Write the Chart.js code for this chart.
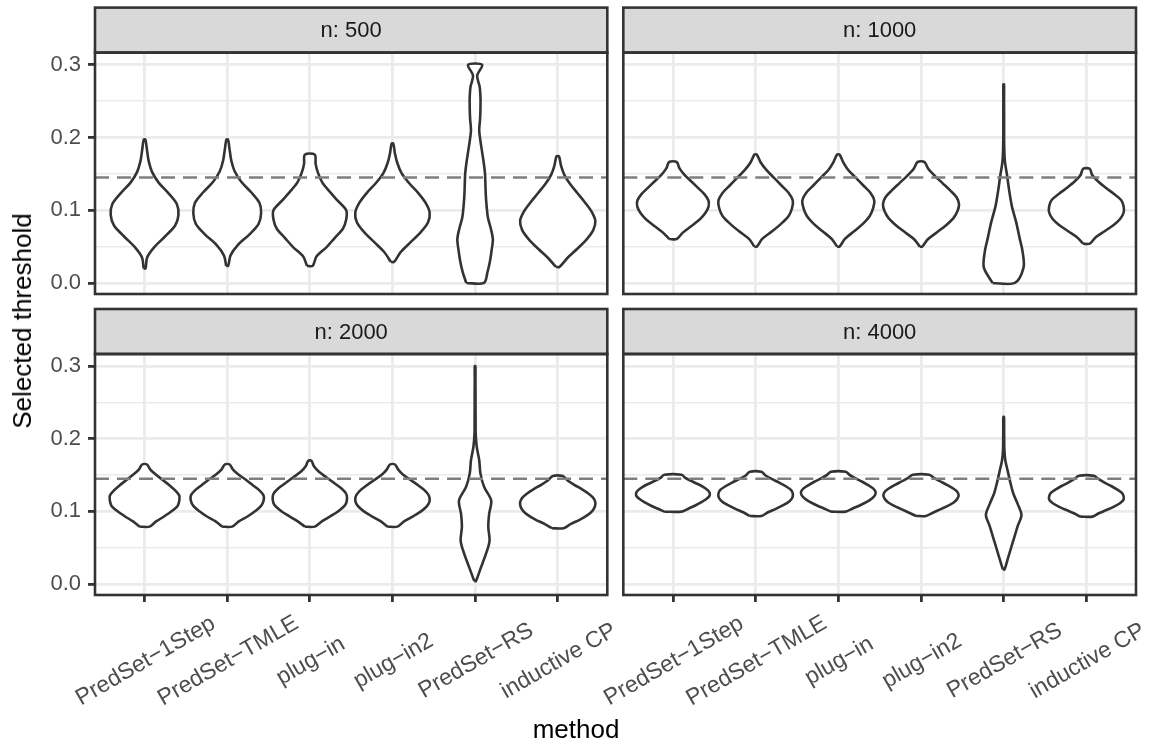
<!DOCTYPE html>
<html>
<head>
<meta charset="utf-8">
<script src="https://cdn.jsdelivr.net/npm/chart.js@4.4.1/dist/chart.umd.min.js"></script>
<style>
  body { margin: 0; background: #fff; }
  #wrap { position: relative; width: 1151px; height: 748px; overflow: hidden; font-family: "Liberation Sans", Arial, sans-serif; }
  #wrap canvas { position: absolute; }
  .axis-title { position: absolute; font-size: 26px; line-height: 1; color: #000; white-space: nowrap; transform: translate(-50%, -50%); }
  #ytitle { left: 22px; top: 321px; transform: translate(-50%, -50%) rotate(-90deg); }
  #xtitle { left: 576px; top: 729px; }
</style>
</head>
<body>
<div id="wrap">
  <canvas id="p500" width="615" height="324" style="left:0;top:0"></canvas>
  <canvas id="p1000" width="536" height="324" style="left:615px;top:0"></canvas>
  <canvas id="p2000" width="615" height="448" style="left:0;top:300px"></canvas>
  <canvas id="p4000" width="591" height="448" style="left:560px;top:300px"></canvas>
  <div class="axis-title" id="ytitle">Selected threshold</div>
  <div class="axis-title" id="xtitle">method</div>
</div>
<script>
const methods = ["PredSet−1Step", "PredSet−TMLE", "plug−in", "plug−in2", "PredSet−RS", "inductive CP"];
const panelNames = ["n: 500", "n: 1000", "n: 2000", "n: 4000"];
const yTicks = [0, 0.05, 0.1, 0.15, 0.2, 0.25, 0.3];
const refThreshold = 0.145;

// each violin: lowest / highest value, then half widths at evenly spaced levels between them
const lo500 = [0.020, 0.0235, 0.0235, 0.029, 0.0, 0.022];
const hi500 = [0.197, 0.197, 0.1765, 0.1917, 0.30, 0.174];
const width500 = [
  [0.012, 0.03, 0.12, 0.25, 0.37, 0.41, 0.39, 0.29, 0.17, 0.09, 0.05, 0.03, 0.01],
  [0.012, 0.04, 0.13, 0.27, 0.38, 0.41, 0.39, 0.29, 0.17, 0.09, 0.05, 0.03, 0.01],
  [0.035, 0.08, 0.20, 0.30, 0.40, 0.44, 0.44, 0.34, 0.24, 0.15, 0.10, 0.07, 0.06],
  [0.02, 0.10, 0.22, 0.34, 0.43, 0.45, 0.40, 0.31, 0.20, 0.11, 0.06, 0.03, 0.01],
  [0.107, 0.15, 0.18, 0.20, 0.215, 0.19, 0.155, 0.14, 0.13, 0.125, 0.12, 0.105, 0.085, 0.065, 0.05, 0.06, 0.065, 0.065, 0.055, 0.025, 0.085],
  [0.02, 0.12, 0.24, 0.35, 0.43, 0.455, 0.41, 0.33, 0.24, 0.15, 0.08, 0.04, 0.015]
];

const lo1000 = [0.0604, 0.05, 0.05, 0.05, 0.0, 0.054];
const hi1000 = [0.1664, 0.1765, 0.1765, 0.1664, 0.273, 0.157];
const width1000 = [
  [0.045, 0.12, 0.22, 0.32, 0.39, 0.43, 0.43, 0.38, 0.30, 0.22, 0.14, 0.08, 0.045],
  [0.015, 0.08, 0.20, 0.31, 0.40, 0.44, 0.45, 0.40, 0.31, 0.22, 0.13, 0.06, 0.015],
  [0.015, 0.08, 0.19, 0.30, 0.38, 0.42, 0.435, 0.39, 0.30, 0.21, 0.12, 0.06, 0.015],
  [0.015, 0.08, 0.19, 0.30, 0.39, 0.44, 0.46, 0.43, 0.35, 0.26, 0.17, 0.09, 0.04],
  [0.135, 0.24, 0.23, 0.19, 0.15, 0.10, 0.068, 0.042, 0.014, 0.006, 0.005, 0.005, 0.004, 0.004],
  [0.04, 0.11, 0.22, 0.33, 0.41, 0.45, 0.45, 0.42, 0.33, 0.23, 0.14, 0.07, 0.04]
];

const lo2000 = [0.079, 0.079, 0.079, 0.079, 0.004, 0.0768];
const hi2000 = [0.1646, 0.1646, 0.1696, 0.1646, 0.30, 0.1486];
const width2000 = [
  [0.06, 0.14, 0.24, 0.33, 0.40, 0.42, 0.42, 0.37, 0.30, 0.22, 0.14, 0.07, 0.03],
  [0.06, 0.14, 0.25, 0.34, 0.41, 0.44, 0.44, 0.39, 0.31, 0.23, 0.14, 0.07, 0.03],
  [0.06, 0.15, 0.26, 0.36, 0.43, 0.45, 0.44, 0.38, 0.29, 0.20, 0.11, 0.05, 0.02],
  [0.06, 0.14, 0.25, 0.35, 0.42, 0.45, 0.44, 0.39, 0.31, 0.22, 0.13, 0.07, 0.03],
  [0.01, 0.07, 0.13, 0.175, 0.16, 0.17, 0.195, 0.11, 0.065, 0.05, 0.02, 0.007, 0.006, 0.005, 0.005, 0.004, 0.004],
  [0.07, 0.16, 0.27, 0.36, 0.42, 0.45, 0.455, 0.43, 0.37, 0.29, 0.20, 0.12, 0.06]
];

const lo4000 = [0.0997, 0.0937, 0.0997, 0.0937, 0.02, 0.0928];
const hi4000 = [0.1504, 0.1545, 0.1545, 0.1504, 0.23, 0.149];
const width4000 = [
  [0.105, 0.19, 0.27, 0.34, 0.40, 0.44, 0.445, 0.42, 0.37, 0.30, 0.22, 0.15, 0.105],
  [0.07, 0.15, 0.25, 0.34, 0.41, 0.445, 0.45, 0.43, 0.37, 0.29, 0.20, 0.12, 0.07],
  [0.09, 0.18, 0.27, 0.35, 0.41, 0.445, 0.45, 0.42, 0.36, 0.29, 0.21, 0.14, 0.09],
  [0.06, 0.15, 0.24, 0.33, 0.40, 0.44, 0.455, 0.44, 0.39, 0.32, 0.24, 0.16, 0.10],
  [0.01, 0.05, 0.09, 0.13, 0.17, 0.215, 0.17, 0.115, 0.08, 0.05, 0.02, 0.008, 0.006, 0.005, 0.004],
  [0.075, 0.15, 0.25, 0.34, 0.41, 0.45, 0.45, 0.43, 0.37, 0.30, 0.22, 0.15, 0.09]
];

const panels = [
  { id: "p500", name: panelNames[0], lo: lo500, hi: hi500, widths: width500, left: true, bottom: false, yWidth: 95, padTop: 52.6, padRight: 7.7 },
  { id: "p1000", name: panelNames[1], lo: lo1000, hi: hi1000, widths: width1000, left: false, bottom: false, yWidth: 8.3, padTop: 52.6, padRight: 15 },
  { id: "p2000", name: panelNames[2], lo: lo2000, hi: hi2000, widths: width2000, left: true, bottom: true, yWidth: 95, padTop: 54, padRight: 7.7 },
  { id: "p4000", name: panelNames[3], lo: lo4000, hi: hi4000, widths: width4000, left: false, bottom: true, yWidth: 63.3, padTop: 54, padRight: 15 }
];

function isMajor(v) {
  return Math.abs(v * 10 - Math.round(v * 10)) < 1e-6;
}

// closed outline: right side going up, left side coming back down
function violinPoints(pos, lo, hi, w) {
  var n = w.length;
  var step = (hi - lo) / (n - 1);
  var right = [], left = [];
  for (var k = 0; k < n; k++) {
    var y = lo + k * step;
    right.push({ x: pos + w[k], y: y });
    left.unshift({ x: pos - w[k], y: y });
  }
  return [{ x: pos - w[0], y: lo }].concat(right, left);
}

// strip, panel border and rotated method labels
const facetPlugin = {
  id: "facet",
  afterDraw: function (chart, args, opts) {
    var ctx = chart.ctx;
    var a = chart.chartArea;
    var stripH = 45;
    ctx.save();
    ctx.fillStyle = "#d9d9d9";
    ctx.fillRect(a.left, a.top - stripH, a.right - a.left, stripH);
    ctx.strokeStyle = "#333333";
    ctx.lineWidth = 2.6;
    ctx.strokeRect(a.left, a.top - stripH, a.right - a.left, stripH);
    ctx.strokeRect(a.left, a.top, a.right - a.left, a.bottom - a.top);
    ctx.font = "22px 'Liberation Sans', Arial, sans-serif";
    ctx.fillStyle = "#1a1a1a";
    ctx.textAlign = "center";
    ctx.textBaseline = "middle";
    ctx.fillText(opts.title, (a.left + a.right) / 2, a.top - stripH / 2 + 1);
    if (opts.labels) {
      var xs = chart.scales.x;
      ctx.font = "23px 'Liberation Sans', Arial, sans-serif";
      ctx.fillStyle = "#4d4d4d";
      xs.ticks.forEach(function (t) {
        ctx.save();
        ctx.translate(xs.getPixelForValue(t.value) + 1, opts.labelY);
        ctx.rotate(-Math.PI / 6);
        ctx.fillText(methods[t.value - 1], 0, 0);
        ctx.restore();
      });
    }
    ctx.restore();
  }
};

panels.forEach(function (p) {
  var datasets = [{
    label: "reference",
    data: [{ x: 0.4, y: refThreshold }, { x: 6.6, y: refThreshold }],
    borderColor: "#7f7f7f",
    borderWidth: 2.6,
    borderDash: [14, 8],
    fill: false,
    pointRadius: 0,
    tension: 0,
    order: 0
  }];
  methods.forEach(function (m, i) {
    datasets.push({
      label: m,
      data: violinPoints(i + 1, p.lo[i], p.hi[i], p.widths[i]),
      borderColor: "#333333",
      backgroundColor: "#ffffff",
      borderWidth: 2.6,
      borderJoinStyle: "round",
      fill: "shape",
      pointRadius: 0,
      tension: 0.3,
      order: 1
    });
  });

  new Chart(document.getElementById(p.id), {
    type: "line",
    data: { datasets: datasets },
    plugins: [facetPlugin],
    options: {
      responsive: false,
      animation: false,
      indexAxis: "y",
      layout: { padding: { top: p.padTop, right: p.padRight, left: 0, bottom: 0 } },
      plugins: {
        legend: { display: false },
        tooltip: { enabled: false },
        facet: { title: p.name, labels: p.bottom, labelY: 361 }
      },
      scales: {
        x: {
          type: "linear",
          min: 0.4,
          max: 6.6,
          afterBuildTicks: function (s) {
            s.ticks = methods.map(function (m, i) { return { value: i + 1 }; });
          },
          afterFit: function (s) { s.height = p.bottom ? 153 : 30; },
          ticks: { display: false, autoSkip: false },
          grid: { color: "#ebebeb", lineWidth: 2.8, drawTicks: p.bottom, tickLength: 7, tickColor: "#333333", tickWidth: 2.8 },
          border: { display: false }
        },
        y: {
          type: "linear",
          min: -0.0152,
          max: 0.3168,
          afterBuildTicks: function (s) {
            s.ticks = yTicks.map(function (v) { return { value: v }; });
          },
          afterFit: function (s) { s.width = p.yWidth; },
          ticks: {
            display: p.left,
            autoSkip: false,
            padding: 7,
            color: "#4d4d4d",
            font: { family: "'Liberation Sans', Arial, sans-serif", size: 22 },
            callback: function (v) { return isMajor(v) ? v.toFixed(1) : ""; }
          },
          grid: {
            color: "#ebebeb",
            lineWidth: function (c) { return c.tick && isMajor(c.tick.value) ? 2.8 : 1.4; },
            drawTicks: p.left,
            tickLength: 7,
            tickWidth: 2.8,
            tickColor: function (c) { return c.tick && isMajor(c.tick.value) ? "#333333" : "rgba(0,0,0,0)"; }
          },
          border: { display: false }
        }
      }
    }
  });
});
</script>
</body>
</html>
